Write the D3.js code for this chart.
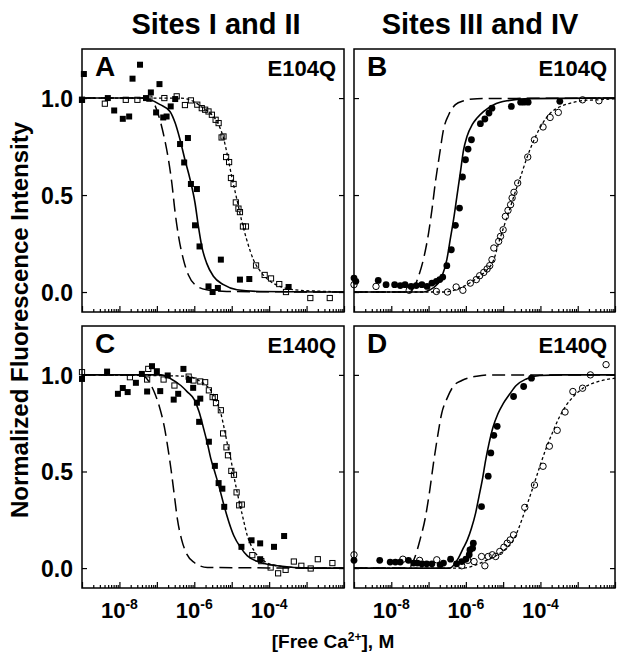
<!DOCTYPE html>
<html><head><meta charset="utf-8">
<script src="https://cdn.jsdelivr.net/npm/d3@7"></script>
<style>
body{margin:0;background:#fff}
text{font-family:"Liberation Sans",Arial,Helvetica,sans-serif;font-weight:bold;fill:#000}
</style>
</head><body>
<svg id="chart" width="624" height="659"></svg>
<script>
// ---- data: [log10([Ca2+]/M), normalized intensity] ----
const columnTitles = ["Sites I and II", "Sites III and IV"];
const panelLetters = ["A", "B", "C", "D"];
const mutants = ["E104Q", "E104Q", "E140Q", "E140Q"];
const yTicks = [0, 0.5, 1.0];
const xLabelExps = [-8, -6, -4];

// Panel A
const aFilled = [[-8.95,1.124],[-7.45,1.172],[-7.65,1.10],[-6.93,1.072],[-7.16,1.029],[-9.0,0.991],[-8.31,1.0],[-8.14,0.936],[-7.91,0.893],[-7.74,0.905],[-7.29,1.0],[-7.02,0.926],[-6.83,0.90],[-6.74,0.905],[-6.63,0.957],[-6.51,0.995],[-6.17,0.794],[-6.38,0.763],[-6.27,0.668],[-6.09,0.557],[-5.93,0.531],[-5.98,0.344],[-5.86,0.235],[-5.29,0.167],[-5.62,0.029],[-5.51,0.0],[-5.37,0.021],[-4.78,0.064],[-4.53,0.067],[-3.48,0.026]];
const aOpen = [[-9.0,0.991],[-8.39,0.971],[-7.83,0.991],[-7.52,0.991],[-7.2,0.997],[-6.8,1.0],[-6.47,1.009],[-6.25,0.964],[-6.09,0.988],[-5.92,0.966],[-5.80,0.948],[-5.71,0.94],[-5.62,0.931],[-5.53,0.914],[-5.43,0.888],[-5.35,0.871],[-5.27,0.797],[-5.22,0.802],[-5.15,0.696],[-5.07,0.670],[-5.02,0.588],[-4.95,0.557],[-4.89,0.462],[-4.82,0.43],[-4.78,0.412],[-4.70,0.338],[-4.62,0.338],[-4.35,0.137],[-4.12,0.088],[-3.95,0.07],[-3.73,0.041],[-3.55,0.0],[-2.90,-0.031],[-2.38,-0.031]];
const aSolid = [[-9,1.0],[-7.36,1.0],[-6.91,0.966],[-6.65,0.931],[-6.51,0.871],[-6.38,0.785],[-6.25,0.682],[-6.11,0.579],[-5.98,0.459],[-5.89,0.338],[-5.80,0.235],[-5.67,0.149],[-5.49,0.081],[-5.22,0.038],[-4.86,0.012],[-4.24,0.003],[-2,0]];
const aDashed = [[-9,1.0],[-7.36,1.0],[-7.09,0.974],[-6.96,0.914],[-6.83,0.82],[-6.69,0.682],[-6.60,0.562],[-6.51,0.407],[-6.42,0.287],[-6.29,0.167],[-6.16,0.089],[-5.98,0.038],[-5.67,0.012],[-5.13,0.003],[-2,0]];
const aDotted = [[-9,1.0],[-6.38,1.0],[-6.02,0.983],[-5.76,0.948],[-5.53,0.914],[-5.35,0.863],[-5.22,0.794],[-5.09,0.682],[-5.0,0.596],[-4.86,0.476],[-4.73,0.364],[-4.60,0.270],[-4.42,0.167],[-4.20,0.098],[-3.97,0.055],[-3.71,0.029],[-3.35,0.012],[-2.46,0.003],[-2,0]];

// Panel B
const bFilled = [[-9.0,0.072],[-8.95,0.055],[-8.35,0.06],[-8.14,0.038],[-7.91,0.038],[-7.76,0.033],[-7.63,0.038],[-7.47,0.029],[-7.33,0.033],[-7.18,0.038],[-7.04,0.029],[-6.91,0.046],[-6.79,0.055],[-6.70,0.064],[-6.62,0.077],[-6.51,0.136],[-6.39,0.218],[-6.28,0.344],[-6.17,0.433],[-6.09,0.593],[-6.01,0.682],[-5.94,0.737],[-5.85,0.785],[-5.61,0.868],[-5.49,0.892],[-5.38,0.923],[-5.30,0.948],[-4.78,0.957],[-4.53,0.979],[-4.44,0.979],[-4.33,0.979],[-3.48,0.983]];
const bOpen = [[-9.0,0.038],[-8.41,0.029],[-7.52,0.009],[-6.79,0.003],[-6.49,0.0],[-6.26,0.026],[-6.08,0.009],[-5.88,0.046],[-5.72,0.064],[-5.63,0.084],[-5.52,0.101],[-5.43,0.119],[-5.36,0.136],[-5.30,0.167],[-5.25,0.227],[-5.12,0.261],[-5.07,0.287],[-5.0,0.321],[-4.94,0.39],[-4.87,0.421],[-4.80,0.45],[-4.76,0.485],[-4.71,0.514],[-4.61,0.562],[-4.34,0.696],[-4.16,0.785],[-3.93,0.851],[-3.74,0.90],[-3.52,0.926],[-2.87,0.991],[-2.43,0.986]];
const bSolid = [[-9,0],[-7.13,0],[-6.96,0.012],[-6.78,0.038],[-6.64,0.081],[-6.51,0.167],[-6.42,0.27],[-6.33,0.373],[-6.24,0.493],[-6.15,0.613],[-6.06,0.734],[-5.97,0.802],[-5.83,0.863],[-5.70,0.897],[-5.52,0.931],[-5.25,0.966],[-4.89,0.986],[-4.26,0.997],[-2,1.0]];
const bDashed = [[-9,0],[-7.58,0],[-7.40,0.021],[-7.27,0.081],[-7.13,0.175],[-7.0,0.304],[-6.91,0.424],[-6.82,0.562],[-6.70,0.716],[-6.60,0.837],[-6.46,0.914],[-6.28,0.966],[-6.06,0.986],[-5.70,0.997],[-2,1.0]];
const bDotted = [[-9,0],[-6.60,0],[-6.06,0.029],[-5.70,0.072],[-5.43,0.115],[-5.25,0.167],[-5.12,0.253],[-4.98,0.338],[-4.80,0.442],[-4.67,0.519],[-4.53,0.596],[-4.35,0.699],[-4.17,0.785],[-3.99,0.854],[-3.73,0.923],[-3.46,0.957],[-3.19,0.974],[-2.83,0.988],[-2.47,0.991],[-2.0,0.997]];

// Panel C
const cFilled = [[-9.0,0.979],[-8.33,1.017],[-8.04,0.902],[-7.91,0.932],[-7.78,0.911],[-7.56,0.959],[-7.40,1.005],[-7.26,0.914],[-7.13,1.045],[-7.0,1.019],[-6.91,0.916],[-6.71,0.997],[-6.55,0.872],[-6.43,0.902],[-6.29,1.031],[-6.14,0.974],[-6.03,0.933],[-5.93,0.856],[-5.84,0.877],[-5.87,0.757],[-5.61,0.654],[-5.45,0.529],[-5.35,0.44],[-5.25,0.411],[-5.20,0.317],[-4.74,0.11],[-4.47,0.144],[-4.24,0.128],[-4.24,0.046],[-3.87,0.11],[-3.60,0.166]];
const cOpen = [[-9.0,1.014],[-7.72,0.988],[-7.26,0.976],[-7.23,1.031],[-6.82,0.976],[-6.53,0.945],[-6.15,0.991],[-6.02,0.971],[-5.84,0.966],[-5.71,0.962],[-5.61,0.92],[-5.51,0.885],[-5.45,0.885],[-5.42,0.854],[-5.29,0.817],[-5.23,0.697],[-5.14,0.625],[-5.10,0.584],[-5.01,0.503],[-4.94,0.483],[-4.87,0.392],[-4.80,0.325],[-4.73,0.329],[-4.45,0.067],[-4.21,0.036],[-3.96,0.003],[-3.76,-0.027],[-3.56,-0.009],[-3.34,0.034],[-3.14,0.012],[-2.89,-0.002],[-2.70,0.046],[-2.31,0.026]];
const cSolid = [[-9,1.0],[-6.89,1.0],[-6.62,0.979],[-6.36,0.945],[-6.18,0.911],[-6.0,0.872],[-5.87,0.808],[-5.74,0.714],[-5.65,0.646],[-5.56,0.568],[-5.47,0.509],[-5.34,0.423],[-5.20,0.32],[-5.07,0.235],[-4.94,0.166],[-4.76,0.106],[-4.58,0.063],[-4.23,0.029],[-3.78,0.012],[-2.89,0],[-2,0]];
const cDashed = [[-9,1.0],[-7.42,1.0],[-7.20,0.962],[-7.07,0.911],[-6.93,0.834],[-6.80,0.731],[-6.71,0.628],[-6.62,0.509],[-6.53,0.372],[-6.45,0.252],[-6.34,0.149],[-6.20,0.072],[-6.0,0.029],[-5.65,0.003],[-2,0]];
const cDotted = [[-9,1.0],[-6.18,0.993],[-5.96,0.979],[-5.74,0.954],[-5.56,0.92],[-5.40,0.86],[-5.29,0.80],[-5.20,0.723],[-5.11,0.637],[-5.02,0.56],[-4.94,0.474],[-4.85,0.389],[-4.71,0.269],[-4.58,0.166],[-4.40,0.089],[-4.14,0.038],[-3.78,0.012],[-2.89,0],[-2,0]];

// Panel D
const dFilled = [[-9.0,0.04],[-8.31,0.04],[-8.03,0.031],[-7.89,0.031],[-7.76,0.031],[-7.54,0.04],[-7.40,0.026],[-7.30,0.026],[-7.18,0.022],[-7.05,0.022],[-6.91,0.022],[-6.69,0.017],[-6.60,0.026],[-6.41,0.046],[-6.25,0.022],[-6.11,0.034],[-6.0,0.046],[-5.91,0.069],[-5.89,0.094],[-5.82,0.103],[-5.80,0.129],[-5.58,0.318],[-5.40,0.476],[-5.33,0.596],[-5.25,0.687],[-5.16,0.734],[-4.72,0.888],[-4.45,0.94],[-4.24,0.983]];
const dOpen = [[-9.0,0.069],[-7.69,0.046],[-7.24,0.04],[-6.78,0.043],[-6.11,0.012],[-5.95,0.04],[-5.78,0.034],[-5.58,0.06],[-5.49,0.012],[-5.40,0.06],[-5.29,0.069],[-5.20,0.06],[-5.09,0.086],[-4.98,0.108],[-4.89,0.129],[-4.81,0.146],[-4.72,0.172],[-4.42,0.314],[-4.16,0.43],[-3.93,0.527],[-3.76,0.631],[-3.55,0.713],[-3.34,0.808],[-3.13,0.914],[-2.87,0.931],[-2.66,1.0],[-2.24,1.053]];
const dSolid = [[-9,0],[-6.43,0],[-6.20,0.052],[-6.07,0.103],[-5.96,0.146],[-5.85,0.206],[-5.74,0.283],[-5.65,0.369],[-5.56,0.455],[-5.47,0.558],[-5.38,0.644],[-5.27,0.73],[-5.14,0.799],[-5.0,0.851],[-4.82,0.902],[-4.65,0.945],[-4.38,0.979],[-4.02,0.997],[-3.40,1.0],[-2,1.0]];
const dDashed = [[-9,0],[-7.54,0],[-7.36,0.06],[-7.23,0.146],[-7.09,0.258],[-6.98,0.387],[-6.87,0.541],[-6.76,0.679],[-6.65,0.799],[-6.51,0.876],[-6.34,0.94],[-6.11,0.971],[-5.71,0.993],[-5.36,1.0],[-2,1.0]];
const dDotted = [[-9,0],[-6.07,0],[-5.80,0.012],[-5.45,0.04],[-5.18,0.065],[-4.91,0.103],[-4.73,0.143],[-4.60,0.198],[-4.47,0.266],[-4.33,0.344],[-4.18,0.43],[-4.02,0.524],[-3.85,0.619],[-3.67,0.704],[-3.49,0.782],[-3.31,0.842],[-3.09,0.893],[-2.82,0.936],[-2.51,0.962],[-2.0,0.983]];

// ---- layout ----
const svg = d3.select("#chart");
const frames = [
  {x0: 82, x1: 344, y0: 49, y1: 312},
  {x0: 354, x1: 615, y0: 49, y1: 312},
  {x0: 82, x1: 344, y0: 326, y1: 588},
  {x0: 354, x1: 615, y0: 326, y1: 588}
];
const titleCenters = [216, 480];
const panelData = [
  {filled: aFilled, open: aOpen, solid: aSolid, dashed: aDashed, dotted: aDotted, marker: "square"},
  {filled: bFilled, open: bOpen, solid: bSolid, dashed: bDashed, dotted: bDotted, marker: "circle"},
  {filled: cFilled, open: cOpen, solid: cSolid, dashed: cDashed, dotted: cDotted, marker: "square"},
  {filled: dFilled, open: dOpen, solid: dSolid, dashed: dDashed, dotted: dDotted, marker: "circle"}
];

const majorTicks = d3.range(-9, -1).map(e => Math.pow(10, e));
const minorTicks = [];
d3.range(-9, -2).forEach(e => { for (let m = 2; m <= 9; m++) minorTicks.push(m * Math.pow(10, e)); });

panelData.forEach((p, i) => {
  const f = frames[i];
  const x = d3.scaleLog().domain([1e-9, 1e-2]).range([f.x0, f.x1]);
  const y = d3.scaleLinear().domain([-0.103, 1.253]).range([f.y1, f.y0]);
  const g = svg.append("g");
  const clipId = "clip" + i;
  svg.append("clipPath").attr("id", clipId).append("rect")
    .attr("x", f.x0).attr("y", f.y0).attr("width", f.x1 - f.x0).attr("height", f.y1 - f.y0);

  // axes (inward ticks)
  const bottomMajor = g.append("g").attr("transform", `translate(0,${f.y1})`)
    .call(d3.axisBottom(x).tickValues(majorTicks).tickSize(-6).tickFormat(""));
  const bottomMinor = g.append("g").attr("transform", `translate(0,${f.y1})`)
    .call(d3.axisBottom(x).tickValues(minorTicks).tickSize(-3).tickFormat(""));
  const left = g.append("g").attr("transform", `translate(${f.x0},0)`)
    .call(d3.axisLeft(y).tickValues(yTicks).tickSize(-5).tickPadding(9)
      .tickFormat(i % 2 === 0 ? d3.format(".1f") : () => ""));
  const right = g.append("g").attr("transform", `translate(${f.x1},0)`)
    .call(d3.axisRight(y).tickValues(yTicks).tickSize(-5).tickFormat(""));
  [bottomMajor, bottomMinor, left, right].forEach(a => {
    a.select(".domain").remove();
    a.selectAll("line").attr("stroke", "#000").attr("stroke-width", 1.2);
  });
  left.selectAll("text").style("font-size", "23px").style("font-family", null).attr("dy", "0.36em");

  // frame
  g.append("rect").attr("x", f.x0).attr("y", f.y0)
    .attr("width", f.x1 - f.x0).attr("height", f.y1 - f.y0)
    .attr("fill", "none").attr("stroke", "#000").attr("stroke-width", 1.5);

  const line = d3.line().x(d => x(Math.pow(10, d[0]))).y(d => y(d[1])).curve(d3.curveMonotoneX);
  const lg = g.append("g").attr("clip-path", `url(#${clipId})`);
  lg.append("path").datum(p.dashed).attr("d", line).attr("fill", "none")
    .attr("stroke", "#000").attr("stroke-width", 1.5).attr("stroke-dasharray", "13,6");
  lg.append("path").datum(p.solid).attr("d", line).attr("fill", "none")
    .attr("stroke", "#000").attr("stroke-width", 1.6);
  lg.append("path").datum(p.dotted).attr("d", line).attr("fill", "none")
    .attr("stroke", "#000").attr("stroke-width", 1.3).attr("stroke-dasharray", "3,2.5");

  // markers
  if (p.marker === "square") {
    g.selectAll(".fs").data(p.filled).enter().append("rect")
      .attr("x", d => x(Math.pow(10, d[0])) - 3).attr("y", d => y(d[1]) - 3)
      .attr("width", 6).attr("height", 6).attr("fill", "#000");
    g.selectAll(".os").data(p.open).enter().append("rect")
      .attr("x", d => x(Math.pow(10, d[0])) - 2.6).attr("y", d => y(d[1]) - 2.6)
      .attr("width", 5.2).attr("height", 5.2).attr("fill", "none")
      .attr("stroke", "#000").attr("stroke-width", 1);
  } else {
    g.selectAll(".fc").data(p.filled).enter().append("circle")
      .attr("cx", d => x(Math.pow(10, d[0]))).attr("cy", d => y(d[1]))
      .attr("r", 3.4).attr("fill", "#000");
    g.selectAll(".oc").data(p.open).enter().append("circle")
      .attr("cx", d => x(Math.pow(10, d[0]))).attr("cy", d => y(d[1]))
      .attr("r", 3.2).attr("fill", "none").attr("stroke", "#000").attr("stroke-width", 1);
  }

  // panel letter and mutant
  g.append("text").attr("x", f.x0 + 13).attr("y", f.y0 + 27)
    .style("font-size", "28px").text(panelLetters[i]);
  g.append("text").attr("x", f.x1 - 8).attr("y", f.y0 + 27).attr("text-anchor", "end")
    .style("font-size", "22px").text(mutants[i]);

  // x tick labels on bottom row
  if (i >= 2) {
    xLabelExps.forEach(e => {
      const t = g.append("text").attr("x", x(Math.pow(10, e))).attr("y", f.y1 + 30)
        .attr("text-anchor", "middle").style("font-size", "22px");
      t.append("tspan").text("10");
      t.append("tspan").attr("dy", -9).style("font-size", "14px").text(String(e));
    });
  }
});

// column titles
[0, 1].forEach(c => {
  svg.append("text").attr("x", titleCenters[c]).attr("y", 34)
    .attr("text-anchor", "middle").style("font-size", "29px").text(columnTitles[c]);
});

// axis titles
const xt = svg.append("text").attr("x", 333).attr("y", 648).attr("text-anchor", "middle")
  .style("font-size", "19px");
xt.append("tspan").text("[Free Ca");
xt.append("tspan").attr("dy", -7).style("font-size", "12px").text("2+");
xt.append("tspan").attr("dy", 7).text("], M");

svg.append("text").attr("transform", "translate(28,320) rotate(-90)")
  .attr("text-anchor", "middle").style("font-size", "24px")
  .text("Normalized Fluorescence Intensity");
</script>
</body></html>
